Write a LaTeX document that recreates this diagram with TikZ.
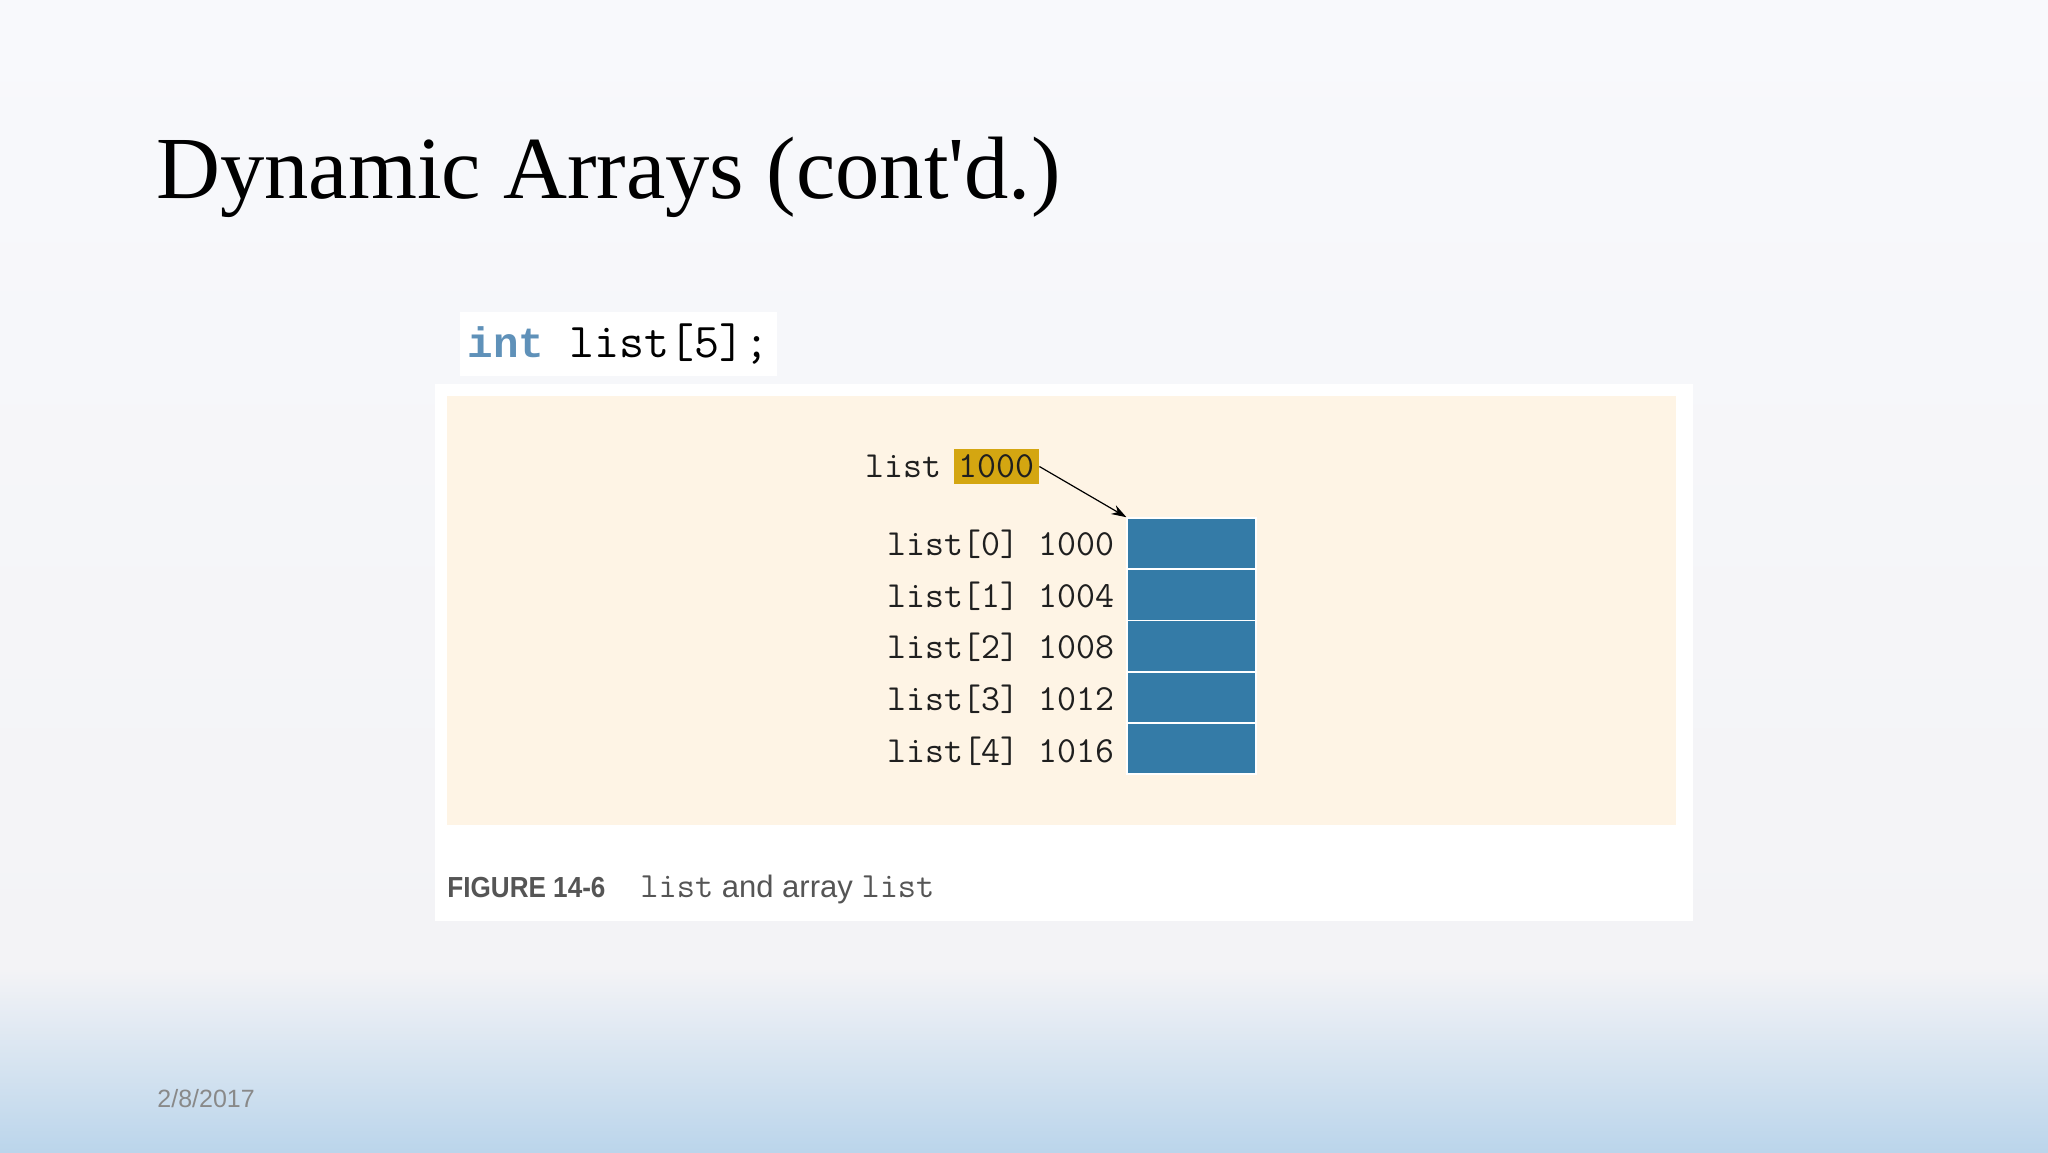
\documentclass[tikz,border=0pt]{standalone}
\usepackage{fontspec}
\setmainfont{Liberation Sans}
\newfontfamily\titlefont{Liberation Serif}
\newfontfamily\capfont[FakeStretch=0.9]{Liberation Sans}
\newfontfamily\keyfont{Liberation Mono}
\usetikzlibrary{arrows.meta}

\definecolor{slidetop}{RGB}{248,249,252}
\definecolor{slidemid}{RGB}{243,243,246}
\definecolor{slidebot}{RGB}{187,213,235}
\definecolor{cream}{RGB}{254,244,229}
\definecolor{gold}{RGB}{212,166,17}
\definecolor{cellblue}{RGB}{52,123,167}
\definecolor{keyblue}{RGB}{95,145,185}
\definecolor{capgray}{RGB}{85,85,85}
\definecolor{dategray}{RGB}{137,137,137}

\begin{document}
\begin{tikzpicture}[x=0.5pt,y=-0.5pt,
  mono/.style={font=\ttfamily\fontsize{18.4}{20}\selectfont, text=black!88, inner sep=0pt},
  cell/.style={fill=cellblue, draw=white, line width=0.8pt, minimum width=64.3pt, minimum height=25.6pt, inner sep=0pt},
  plain/.style={anchor=base west, inner sep=0pt}]
\useasboundingbox (0,0) rectangle (2048,1152);

% slide background
\shade[top color=slidetop, bottom color=slidemid] (0,0) rectangle (2048,970);
\shade[top color=slidemid, bottom color=slidebot] (0,970) rectangle (2048,1152);

\node[plain, font=\titlefont\fontsize{44.3}{50}\selectfont] (title) at (156,198) {Dynamic Arrays (cont\textquotesingle d.)};

\node[fill=white, minimum width=158.5pt, minimum height=32pt, inner sep=0pt, font=\ttfamily\fontsize{24.3}{27}\selectfont] (code) at (618.5,344) {{\keyfont\fontsize{21.3}{24}\selectfont\bfseries\color{keyblue}int} list[5];};

% figure panel
\fill[white] (435,384) rectangle (1693,921);
\fill[cream] (447,396) rectangle (1676,825);

\node[mono, anchor=base east] (ptr) at (942,477) {list};
\node[mono, fill=gold, minimum width=42.5pt, minimum height=17.5pt] (addr) at (996.5,466.5) {1000};

\node[mono, anchor=base east] (row0) at (1115,555) {list[0] 1000};
\node[mono, anchor=base east] (row1) at (1115,607) {list[1] 1004};
\node[mono, anchor=base east] (row2) at (1115,658) {list[2] 1008};
\node[mono, anchor=base east] (row3) at (1115,710) {list[3] 1012};
\node[mono, anchor=base east] (row4) at (1115,762) {list[4] 1016};

\node[cell] (cell0) at (1191.5,543.6) {};
\node[cell] (cell1) at (1191.5,594.9) {};
\node[cell] (cell2) at (1191.5,646.1) {};
\node[cell] (cell3) at (1191.5,697.4) {};
\node[cell] (cell4) at (1191.5,748.6) {};

\draw[-{Stealth[length=7.5pt,width=5pt]}, line width=0.6pt] (addr.east) -- (cell0.north west);

% caption
\node[plain, text=capgray, font=\capfont\bfseries\fontsize{14.5}{16}\selectfont] (fignum) at (447,897) {FIGURE 14-6};
\node[plain, text=capgray, font=\fontsize{15.5}{17}\selectfont] (figtext) at (640,897) {{\ttfamily\fontsize{17.7}{20}\selectfont list} and array {\ttfamily\fontsize{17.7}{20}\selectfont list}};

\node[plain, text=dategray, font=\fontsize{12.5}{14}\selectfont] (date) at (157,1107) {2/8/2017};
\end{tikzpicture}
\end{document}
